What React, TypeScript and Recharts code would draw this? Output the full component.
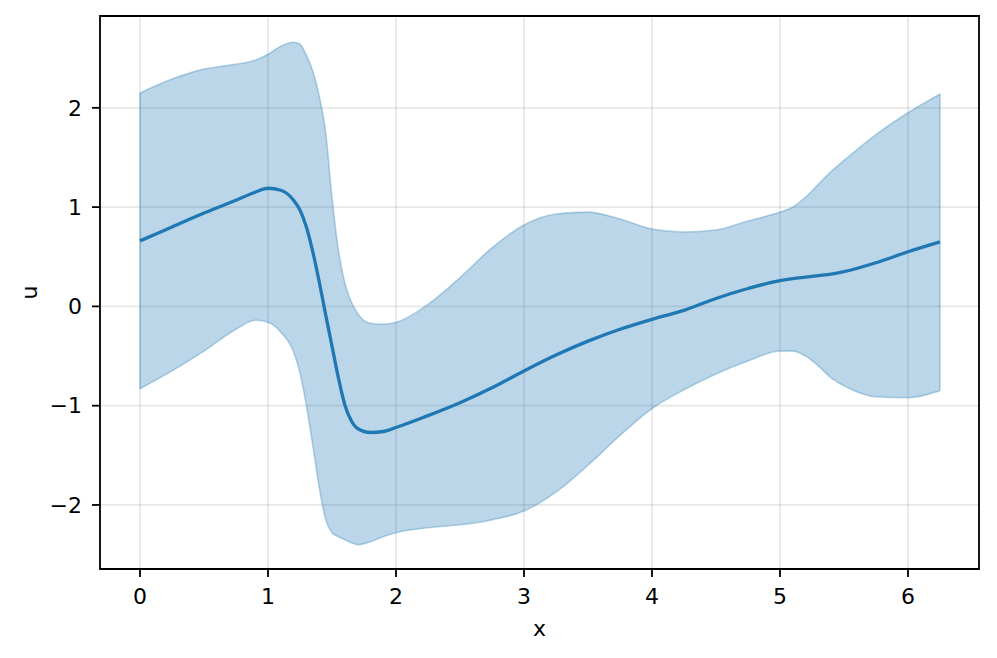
import React from "react";
import {
  ComposedChart,
  Area,
  Line,
  XAxis,
  YAxis,
  CartesianGrid,
  ReferenceArea,
  ReferenceLine,
} from "recharts";

const xs = [
  0, 0.25, 0.5, 0.75, 0.9, 1.0, 1.1, 1.2, 1.25, 1.3, 1.35, 1.4, 1.45, 1.5, 1.55, 1.6, 1.65, 1.7, 1.8, 1.9,
  2.0, 2.25, 2.5, 2.75, 3.0, 3.25, 3.5, 3.75, 4.0, 4.25, 4.5, 4.75, 5.0, 5.1, 5.2, 5.3, 5.4, 5.5, 5.75, 6.0, 6.25,
];

const upper = [
  2.15, 2.29, 2.39, 2.44, 2.48, 2.54, 2.62, 2.66, 2.64, 2.53, 2.37, 2.12, 1.76, 1.1, 0.57, 0.24, 0.05, -0.07, -0.17, -0.18,
  -0.16, 0.02, 0.29, 0.59, 0.82, 0.93, 0.95, 0.88, 0.78, 0.75, 0.77, 0.86, 0.95, 1.0, 1.1, 1.23, 1.36, 1.47, 1.73, 1.95, 2.14,
];

const lower = [
  -0.83, -0.65, -0.45, -0.23, -0.14, -0.16, -0.26, -0.46, -0.67, -1.0, -1.4, -1.82, -2.14, -2.28, -2.32, -2.35, -2.38, -2.4, -2.37, -2.32,
  -2.28, -2.23, -2.2, -2.15, -2.06, -1.87, -1.6, -1.3, -1.03, -0.84, -0.68, -0.55, -0.45, -0.45, -0.5, -0.6, -0.72, -0.8, -0.91, -0.92, -0.85,
];

const mean = [
  0.66, 0.8, 0.94, 1.07, 1.15, 1.19, 1.17, 1.07, 0.97, 0.8, 0.55, 0.25, -0.08, -0.4, -0.72, -0.99, -1.15, -1.23, -1.27, -1.26,
  -1.22, -1.1, -0.97, -0.82, -0.65, -0.49, -0.35, -0.23, -0.13, -0.04, 0.08, 0.18, 0.26, 0.28, 0.295, 0.31, 0.325, 0.35, 0.44, 0.55, 0.65,
];

const xTicks = [0, 1, 2, 3, 4, 5, 6];
const yTicks = [-2, -1, 0, 1, 2];
const xDomain: [number, number] = [-0.3125, 6.555];
const yDomain: [number, number] = [-2.645, 2.925];

const C0 = "#1f77b4";
const FONT = "DejaVu Sans";

const data = xs.map((x, i) => ({ x, band: [lower[i], upper[i]], mean: mean[i] }));

const fmt = (v: number) => String(v).replace("-", "\u2212");

export default function App() {
  const last = xs.length - 1;
  return (
    <ComposedChart
      width={981}
      height={642}
      data={data}
      margin={{ top: 8, right: 10, bottom: 0, left: 0 }}
      style={{ fontFamily: FONT }}
    >
      <CartesianGrid stroke="#b0b0b0" strokeOpacity={0.3} strokeWidth={1.8} />
      <XAxis
        dataKey="x"
        type="number"
        domain={xDomain}
        ticks={xTicks}
        allowDataOverflow
        height={81}
        tickSize={8}
        tickMargin={11}
        tickFormatter={fmt}
        tick={{ fill: "#000", fontSize: 22, fontFamily: FONT }}
        tickLine={{ stroke: "#000", strokeWidth: 1.8 }}
        axisLine={false}
        label={{
          content: (props: any) => {
            const vb = props.viewBox;
            return (
              <text
                x={vb.x + vb.width / 2}
                y={vb.y + 67}
                textAnchor="middle"
                fontSize={22}
                fontFamily={FONT}
                fill="#000"
              >
                x
              </text>
            );
          },
        }}
      />
      <YAxis
        type="number"
        domain={yDomain}
        ticks={yTicks}
        allowDataOverflow
        width={92}
        tickSize={8}
        tickMargin={10}
        tickFormatter={fmt}
        tick={{ fill: "#000", fontSize: 22, fontFamily: FONT }}
        tickLine={{ stroke: "#000", strokeWidth: 1.8 }}
        axisLine={false}
        label={{
          content: (props: any) => {
            const vb = props.viewBox;
            const cx = 29;
            const cy = vb.y + vb.height / 2;
            return (
              <text
                x={cx}
                y={cy}
                textAnchor="middle"
                fontSize={22}
                fontFamily={FONT}
                fill="#000"
                transform={`rotate(-90, ${cx}, ${cy})`}
              >
                u
              </text>
            );
          },
        }}
      />
      <Area
        dataKey="band"
        type="monotone"
        fill={C0}
        fillOpacity={0.3}
        stroke={C0}
        strokeOpacity={0.3}
        strokeWidth={1.6}
        isAnimationActive={false}
        dot={false}
        activeDot={false}
      />
      <ReferenceLine
        segment={[
          { x: xs[0], y: lower[0] },
          { x: xs[0], y: upper[0] },
        ]}
        stroke={C0}
        strokeOpacity={0.3}
        strokeWidth={1.6}
      />
      <ReferenceLine
        segment={[
          { x: xs[last], y: lower[last] },
          { x: xs[last], y: upper[last] },
        ]}
        stroke={C0}
        strokeOpacity={0.3}
        strokeWidth={1.6}
      />
      <Line
        dataKey="mean"
        type="monotone"
        stroke={C0}
        strokeWidth={3.3}
        dot={false}
        activeDot={false}
        isAnimationActive={false}
      />
      <ReferenceArea
        x1={xDomain[0]}
        x2={xDomain[1]}
        y1={yDomain[0]}
        y2={yDomain[1]}
        fill="none"
        stroke="#000"
        strokeWidth={1.8}
        ifOverflow="visible"
      />
    </ComposedChart>
  );
}
